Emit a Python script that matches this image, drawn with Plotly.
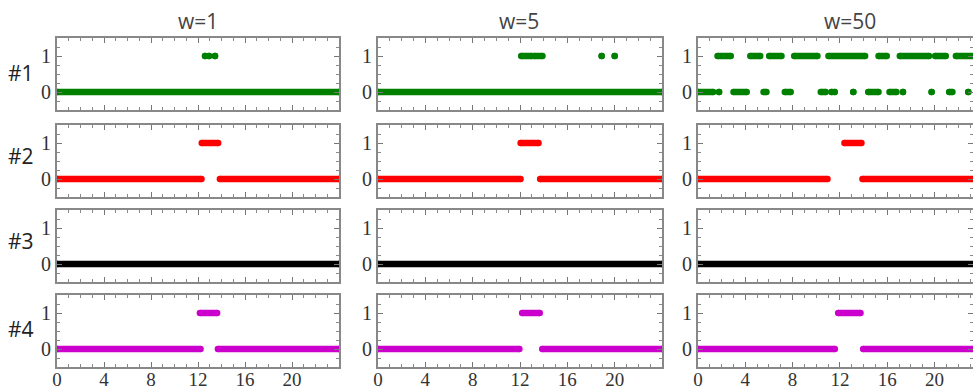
import plotly.graph_objects as go
from plotly.subplots import make_subplots

COL_TITLES = ["w=1", "w=5", "w=50"]
ROW_LABELS = ["#1", "#2", "#3", "#4"]
ROW_COLORS = ["#008000", "#ff0000", "#000000", "#cc00cc"]
X_TICKS = [0, 4, 8, 12, 16, 20]
Y_TICKS = [0, 1]

# runs of state value 1 / value 0 as (start, end) on the 0-24 axis, per row and per column (w=1, w=5, w=50)
ONES_RUNS = [
    [[(12.6, 12.6), (12.94, 12.94), (13.45, 13.45)],
     [(12.1, 13.0), (13.2, 13.9), (18.9, 18.9), (20.0, 20.0)],
     [(1.65, 2.77), (4.42, 5.26), (6.02, 7.06), (8.13, 10.1), (11.03, 14.13),
      (15.26, 15.96), (17.06, 19.54), (20.05, 20.95), (21.8, 24.0)]],
    [[(12.32, 13.72)], [(12.05, 13.57)], [(12.38, 13.82)]],
    [[], [], []],
    [[(12.16, 13.63)], [(12.18, 13.67)], [(11.85, 13.74)]],
]
ZEROS_RUNS = [
    [[(0, 24)],
     [(0, 24)],
     [(0, 1.28), (1.78, 1.78), (3.0, 4.12), (5.54, 5.79), (7.34, 7.84), (10.38, 10.8),
      (11.3, 11.3), (11.55, 11.55), (13.13, 13.13), (14.39, 15.26), (16.19, 16.78),
      (17.33, 17.33), (19.75, 19.75), (21.23, 21.51), (22.85, 22.85)]],
    [[(0, 12.3), (13.86, 24)], [(0, 12.05), (13.7, 24)], [(0, 10.95), (13.9, 24)]],
    [[(0, 24)], [(0, 24)], [(0, 24)]],
    [[(0, 12.22), (13.69, 24)], [(0, 11.95), (13.88, 24)], [(0, 11.57), (13.96, 24)]],
]

W, H = 973, 389
COL_PX = [(57, 339, 24.0), (378, 662, 24.0), (698, 973, 23.25)]
ROW_PX = [(38, 110), (125, 197), (210, 282), (295, 367)]

fig = make_subplots(rows=4, cols=3)


def runs_to_xy(runs, val):
    xs, ys = [], []
    for s, e in runs:
        xs += [s, e, None]
        ys += [val, val, None]
    return xs, ys


for r in range(4):
    for c in range(3):
        for runs, val in ((ZEROS_RUNS[r][c], 0), (ONES_RUNS[r][c], 1)):
            if not runs:
                continue
            xs, ys = runs_to_xy(runs, val)
            fig.add_trace(go.Scatter(
                x=xs, y=ys, mode="lines+markers",
                line=dict(color=ROW_COLORS[r], width=6.5),
                marker=dict(color=ROW_COLORS[r], size=6.5),
                showlegend=False, hoverinfo="skip"), row=r + 1, col=c + 1)

tick_font = dict(family="Liberation Sans Narrow", size=20, color="#333")
x_tick_font = dict(family="Liberation Sans Narrow", size=19, color="#333")
for r in range(4):
    for c in range(3):
        idx = r * 3 + c + 1
        xa = "xaxis" if idx == 1 else f"xaxis{idx}"
        ya = "yaxis" if idx == 1 else f"yaxis{idx}"
        x0, x1, xmax = COL_PX[c]
        y0, y1 = ROW_PX[r]
        fig.layout[xa].update(
            domain=[x0 / W, x1 / W], range=[0, xmax], automargin=False,
            tickmode="array", tickvals=X_TICKS,
            ticks="inside", ticklen=5, tickcolor="#777", tickwidth=1,
            showline=True, linecolor="#888", linewidth=2, mirror="allticks",
            showgrid=False, zeroline=False,
            showticklabels=(r == 3), tickfont=x_tick_font, ticklabelstandoff=-6,
            minor=dict(dtick=1, tick0=0, ticks="inside", ticklen=3, tickcolor="#888", showgrid=False),
        )
        fig.layout[ya].update(
            domain=[1 - y1 / H, 1 - y0 / H], range=[-0.5, 1.5], automargin=False,
            tickmode="array", tickvals=Y_TICKS,
            ticks="inside", ticklen=5, tickcolor="#777", tickwidth=1,
            showline=True, linecolor="#888", linewidth=2, mirror="allticks",
            showgrid=False, zeroline=False, tickfont=tick_font,
            minor=dict(dtick=0.25, tick0=0, ticks="inside", ticklen=3, tickcolor="#888", showgrid=False),
        )

annotations = []
title_x = [198, 519, 850]
for c, t in enumerate(COL_TITLES):
    annotations.append(dict(text=t, x=title_x[c] / W, y=1 - 21 / H, xref="paper", yref="paper",
                            showarrow=False, xanchor="center", yanchor="middle",
                            font=dict(family="Open Sans", size=21, color="#444")))
row_y = [73, 156, 241, 329]
for r, t in enumerate(ROW_LABELS):
    annotations.append(dict(text=t, x=21 / W, y=1 - row_y[r] / H, xref="paper", yref="paper",
                            showarrow=False, xanchor="center", yanchor="middle",
                            font=dict(family="Open Sans", size=21, color="#222")))

fig.update_layout(
    width=W, height=H, margin=dict(l=0, r=0, t=0, b=0),
    plot_bgcolor="white", paper_bgcolor="white",
    annotations=annotations, showlegend=False,
)

fig.write_html("out.html", config={"displayModeBar": False},
               post_script="document.body.style.margin='0';document.body.style.overflow='hidden';")
